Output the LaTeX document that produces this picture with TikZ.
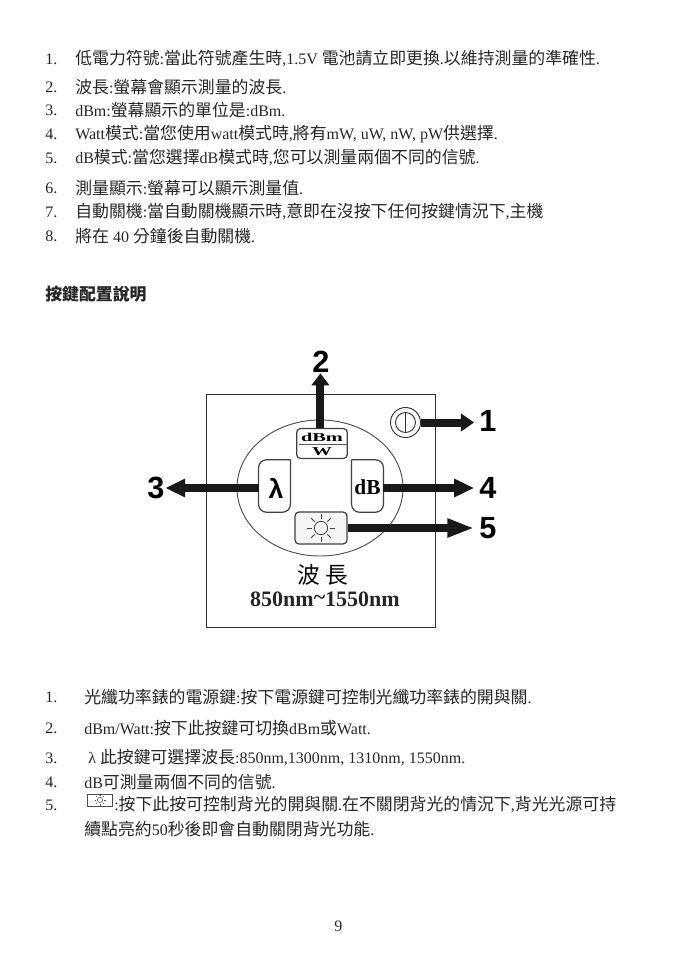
\documentclass[tikz,border=0pt]{standalone}
\usepackage{fontspec}
\usepackage{graphicx}
\usetikzlibrary{arrows.meta}
\setmainfont{Liberation Serif}
\newfontfamily\cjk[Scale=1.055]{Noto Sans CJK TC}
\newfontfamily\cjkplain{Noto Sans CJK TC}
\newfontfamily\heavy{Liberation Sans}
\newcommand{\zh}[1]{{\cjk #1}}
\tikzset{
  textline/.style={anchor=west,inner sep=0pt,font=\fontsize{12}{14}\selectfont,text=black!85},
  keyline/.style={draw=black!75,line width=0.9pt},
  keybox/.style={keyline,rounded corners=3pt,inner sep=0pt},
  number/.style={font=\heavy\bfseries\fontsize{23}{26}\selectfont,inner sep=0.5pt,outer sep=0pt},
  callout/.style={line width=6pt,draw=black!90,-{Triangle[length=#1,width=13pt]}},
  sunray/.style={black!75,line width=0.6pt}
}
\begin{document}
\begin{tikzpicture}[x=0.75pt,y=-0.75pt]
 \useasboundingbox (0,0) rectangle (677,954);
	% upper list
	\foreach \i/\ypos/\txt in {
	1/59/{\zh{低電力符號}:\zh{當此符號產生時},1.5V \zh{電池請立即更換}.\zh{以維持測量的準確性}.},
	2/87/{\zh{波長}:\zh{螢幕會顯示測量的波長}.},
	3/110/{dBm:\zh{螢幕顯示的單位是}:dBm.},
	4/134/{Watt\zh{模式}:\zh{當您使用}watt\zh{模式時},\zh{將有}mW, uW, nW, pW\zh{供選擇}.},
	5/158/{dB\zh{模式}:\zh{當您選擇}dB\zh{模式時},\zh{您可以測量兩個不同的信號}.},
	6/188/{\zh{測量顯示}:\zh{螢幕可以顯示測量值}.},
	7/212/{\zh{自動關機}:\zh{當自動關機顯示時},\zh{意即在沒按下任何按鍵情況下},\zh{主機}},
	8/236/{\zh{將在} 40 \zh{分鐘後自動關機}.}}{
	  \node[textline] (upnum\i) at (45,\ypos) {\i.};
	  \node[textline] (uptxt\i) at (75,\ypos) {\txt};
	}
	\node[textline,font=\fontsize{12}{14}\selectfont\bfseries] (title) at (45,294) {\zh{按鍵配置說明}};
	% panel
	\draw[black!80,line width=0.7pt] (206.5,394) rectangle (435.5,627);
	\draw[black!70,line width=0.7pt] (320,488) ellipse [x radius=83,y radius=68];
	\node[circle,draw=black!80,line width=0.7pt,minimum size=22.5pt,inner sep=0pt] (power) at (405.5,422.5) {};
	\node[circle,draw=black!80,line width=0.7pt,minimum size=15pt,inner sep=0pt] (powerin) at (405.5,422.5) {};
	\draw[black!80,line width=0.7pt] (powerin.north) -- (powerin.south);
	\node[keybox,fill=white,minimum width=38pt,minimum height=22.5pt] (dbmkey) at (322,443.5) {};
	\node[inner sep=0pt,font=\fontsize{9}{10}\selectfont\bfseries] (dbmtxt) at (322,437.5) {\scalebox{1.7}[1]{dBm}};
	\node[inner sep=0pt,font=\fontsize{9}{10}\selectfont\bfseries] (wtxt) at (322,452) {\scalebox{1.65}[1]{W}};
	\draw[black!65,line width=1.3pt] (dbmkey.west)++(3,1) coordinate (barl) -- (barl -| dbmkey.east);
	\node[inner sep=0pt,minimum width=23.5pt,minimum height=39pt] (lamkey) at (274.5,486) {};
	\node[inner sep=0pt,minimum width=23.5pt,minimum height=39pt] (dbkey) at (367.5,486) {};
	\draw[keyline] (lamkey.north east) [rounded corners=6pt] -- (lamkey.north west) -- (lamkey.south west) -- (lamkey.south east) [sharp corners] -- (lamkey.north east);
	\draw[keyline] (dbkey.north west) [rounded corners=6pt] -- (dbkey.north east) -- (dbkey.south east) -- (dbkey.south west) [sharp corners] -- (dbkey.north west);
	\node[inner sep=0pt,font=\heavy\bfseries\fontsize{20}{22}\selectfont] (lamtxt) at (276,488) {λ};
	\node[inner sep=0pt,font=\bfseries\fontsize{16}{18}\selectfont] (dbtxt) at (367.5,487) {dB};
	\node[keybox,fill=black!4,minimum width=39pt,minimum height=24pt] (sunkey) at (321,528) {};
	\node[circle,draw=black!75,line width=0.6pt,minimum size=10pt,inner sep=0pt] (suncore) at (321,528) {};
	\foreach \a in {0,45,...,315}
	  \draw[sunray,shift={(suncore.center)}] (\a:9) -- (\a:14);
	\node[inner sep=0pt,font=\cjkplain\fontsize{17}{20}\selectfont] (wavetxt) at (322.5,575) {波\hspace{4pt}長};
	\node[inner sep=0pt,font=\bfseries\fontsize{16.5}{18}\selectfont,text=black!85] (rangetxt) at (325,599) {850nm\raisebox{1pt}{\textasciitilde}1550nm};
	% callouts
	\node[number] (num1) at (488,421) {1};
	\node[number] (num2) at (321,362) {2};
	\node[number] (num3) at (156,488) {3};
	\node[number] (num4) at (488,488) {4};
	\node[number] (num5) at (488,528) {5};
	\draw[callout=10pt,shorten >=3.5pt] (power.east) -- (power.east -| num1.west);
	\draw[callout=9pt] ([xshift=-1.2pt]dbmkey.north) -- ([xshift=-1.2pt]dbmkey.north |- num2.south);
	\draw[callout=15pt] (lamkey.west |- num3) -- (num3.east);
	\draw[callout=15pt,shorten >=3.5pt] (dbkey.east |- num4) -- (num4.west);
	\draw[callout=20pt,shorten >=3.5pt] (sunkey.east) -- (num5.west);
	% lower list
	\foreach \i/\ypos/\txt in {
	1/697/{\zh{光纖功率錶的電源鍵}:\zh{按下電源鍵可控制光纖功率錶的開與關}.},
	2/728/{dBm/Watt:\zh{按下此按鍵可切換}dBm\zh{或}Watt.},
	3/758/{\ λ \zh{此按鍵可選擇波長}:850nm,1300nm, 1310nm, 1550nm.},
	4/782/{dB\zh{可測量兩個不同的信號}.}}{
	  \node[textline] (lownum\i) at (45,\ypos) {\i.};
	  \node[textline] (lowtxt\i) at (84,\ypos) {\txt};
	}
	\node[textline] (lownum5) at (45,805) {5.};
	\node[draw=black!70,line width=0.6pt,minimum width=19pt,minimum height=9pt,inner sep=0pt] (sunicon) at (100,800) {};
	\node[circle,draw=black!70,line width=0.4pt,minimum size=4pt,inner sep=0pt] (suniconin) at (100,800) {};
	\foreach \a in {0,45,...,315}
	  \draw[black!70,line width=0.3pt,shift={(suniconin.center)}] (\a:3.8) -- (\a:5.5);
	\node[textline] (lowtxt5) at (114,805) {:\zh{按下此按可控制背光的開與關}.\zh{在不關閉背光的情況下},\zh{背光光源可持}};
	\node[textline] (lowtxt6) at (84,829) {\zh{續點亮約}50\zh{秒後即會自動關閉背光功能}.};
	\node[textline] (pagenum) at (334,926) {9};
\end{tikzpicture}
\end{document}
